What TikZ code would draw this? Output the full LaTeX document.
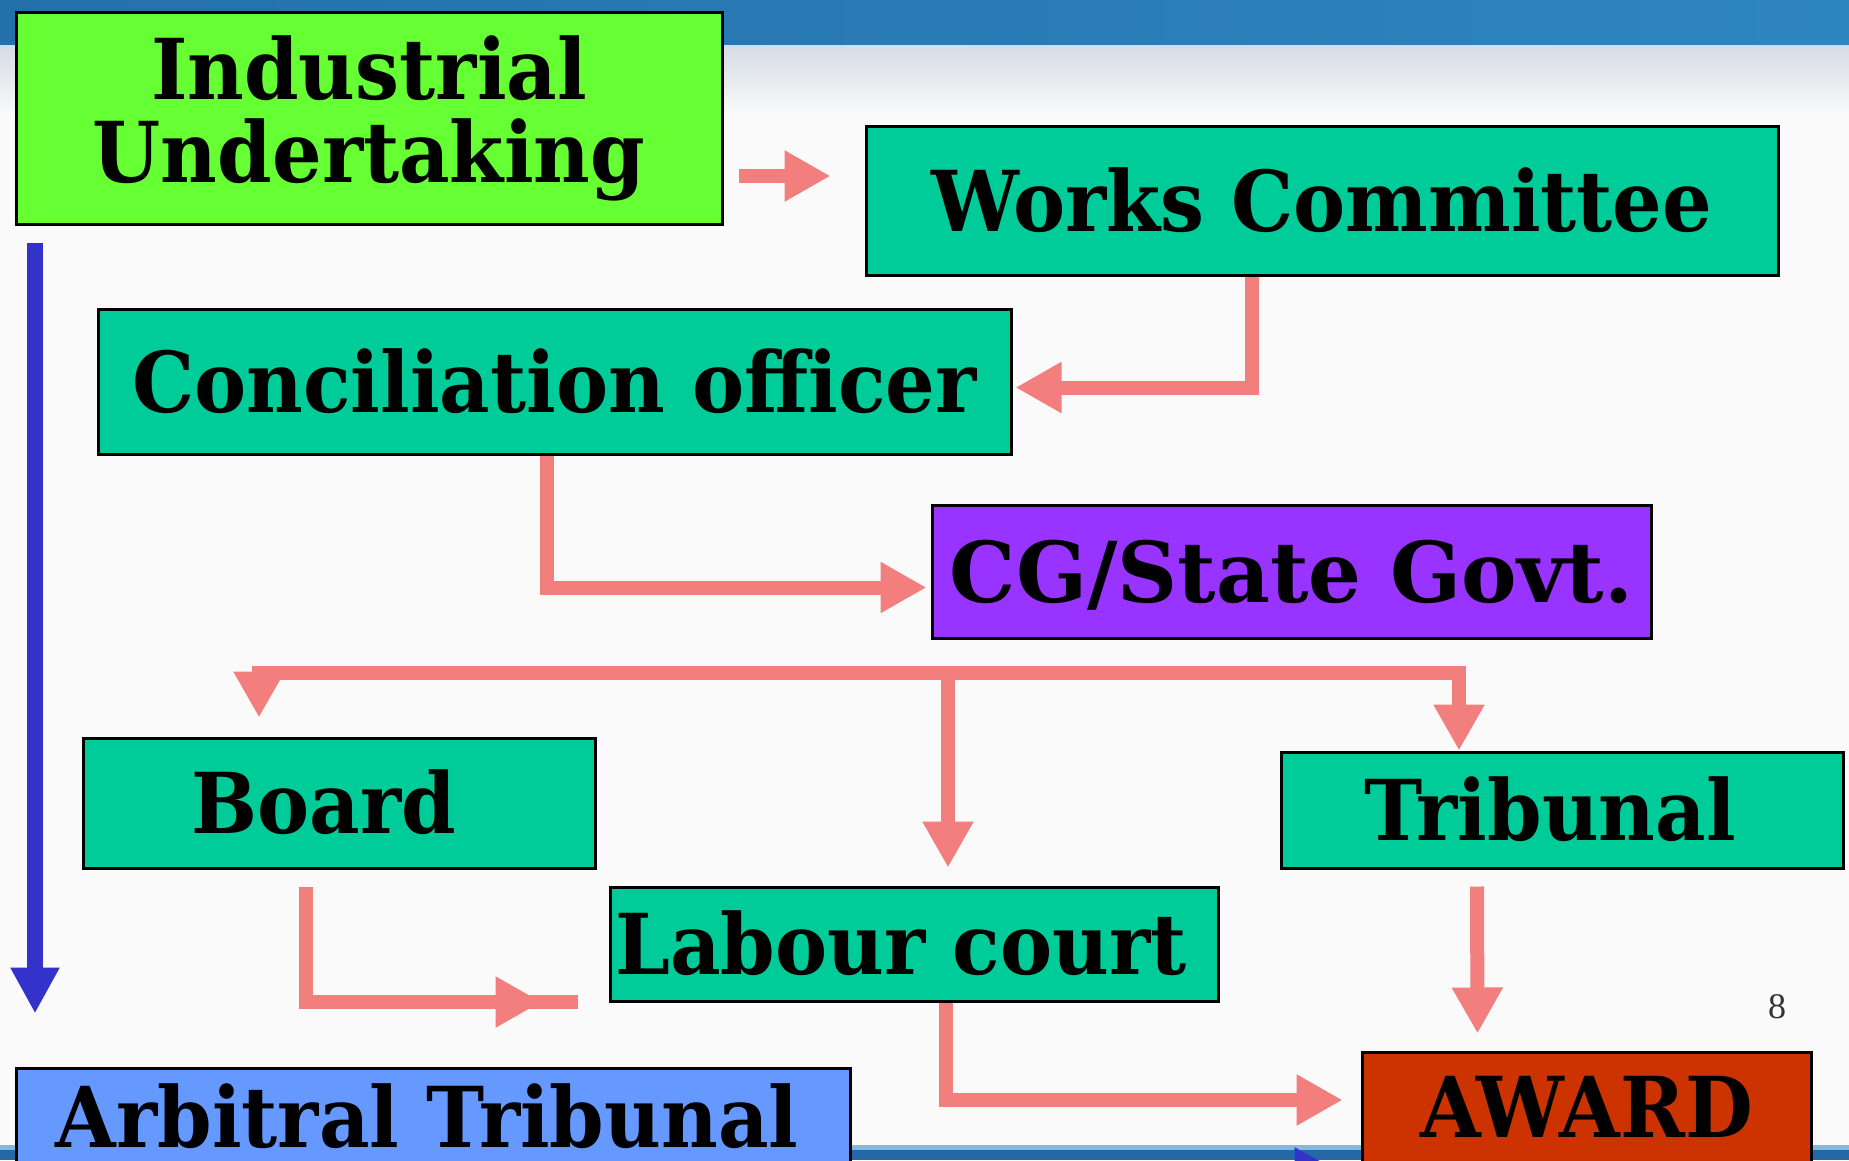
\documentclass[tikz,border=0pt]{standalone}
\usepackage{fontspec}
\setmainfont{DejaVu Serif}[FakeStretch=0.93]
\newfontfamily\numfont{Liberation Serif}
\usetikzlibrary{arrows.meta,calc}
\definecolor{bgc}{HTML}{FAFAFA}
\definecolor{barL}{HTML}{2470AA}
\definecolor{barR}{HTML}{2E86C1}
\definecolor{gloss}{HTML}{D5DCE3}
\definecolor{botL}{HTML}{86B8DC}
\definecolor{botD}{HTML}{2468A8}
\definecolor{limeF}{HTML}{66FF33}
\definecolor{tealF}{HTML}{00CC99}
\definecolor{purpF}{HTML}{9933FF}
\definecolor{blueF}{HTML}{6699FF}
\definecolor{redF}{HTML}{CC3300}
\definecolor{salmon}{HTML}{F27E7E}
\definecolor{flowblue}{HTML}{3333CC}
\begin{document}
\begin{tikzpicture}[x=1pt,y=-1pt,
  box/.style={draw=black, line width=3pt, inner sep=0pt,
    font=\bfseries\fontsize{84}{83}\selectfont},
  oneline/.style={text height=61pt, text depth=0pt},
  arr/.style={draw=salmon, line width=14pt, -{Triangle[length=46pt,width=48pt]}},
  link/.style={draw=salmon, line width=14pt},
  barr/.style={draw=flowblue, line width=16pt, -{Triangle[length=46pt,width=46pt]}}]
\useasboundingbox (0,0) rectangle (1849,1160);
\clip (0,0) rectangle (1849,1160);
% background
\fill[bgc] (0,0) rectangle (1849,1160);
\fill[left color=barL, right color=barR] (0,0) rectangle (1849,45);
\fill[top color=gloss, bottom color=bgc] (0,45) rectangle (1849,115);
\fill[botL] (0,1145) rectangle (1849,1150);
\fill[botD] (0,1150) rectangle (1849,1160);

% boxes
\node[box, fill=limeF, minimum width=706pt, minimum height=212pt, align=center] (iu) at (369,118) {Industrial\\Undertaking};
\node[box, oneline, fill=tealF, minimum width=912pt, minimum height=149pt] (wc) at (1322,200.5) {Works Committee};
\node[box, oneline, fill=tealF, minimum width=913pt, minimum height=145pt] (co) at (554.5,381.5) {Conciliation officer};
\node[box, oneline, fill=purpF, minimum width=719pt, minimum height=133pt] (cg) at (1291.5,571.5) {\scalebox{1.066}[1]{CG/State Govt.}};
\node[box, oneline, fill=tealF, minimum width=512pt, minimum height=130pt] (board) at (339,803) {Board\hspace*{30pt}};
\node[box, oneline, fill=tealF, minimum width=562pt, minimum height=116pt] (trib) at (1562,810) {Tribunal\hspace*{24pt}};
\node[box, oneline, fill=tealF, minimum width=608pt, minimum height=114pt] (lab) at (914,944) {Labour court\hspace*{26pt}};
\node[box, oneline, fill=blueF, minimum width=834pt, minimum height=98pt] (arb) at (433,1117) {Arbitral Tribunal\hspace*{12pt}};
\node[box, oneline, fill=redF, minimum width=449pt, minimum height=110pt] (award) at (1586.5,1107) {AWARD};
\node[font=\numfont\fontsize{36}{36}\selectfont, text=black!80, inner sep=0pt] (pg) at (1777,1007) {8};

% connectors
\draw[arr] ($(iu.east)+(15,58)$) -- ($(wc.west |- iu.east)+(-34,58)$);
\draw[arr] ($(wc.south)+(-70,0)$) |- ($(co.east)+(3,6)$);
\draw[arr] ($(co.south)+(-8,0)$) |- ($(cg.west)+(-4,16)$);
\coordinate (busL) at ($(board.north)+(-80,-64)$);
\coordinate (busR) at ($(trib.north)+(-103,-78)$);
\coordinate (midx) at ($(lab.north)+(34,0)$);
\draw[arr] ($(busL)+(-7,0)$) -- (busR) -- ($(trib.north)+(-103,0)$);
\draw[arr] (busL) -- ($(board.north)+(-80,-19)$);
\draw[arr] (midx |- busL) -- ($(midx)+(0,-18)$);
\draw[arr] ($(board.south)+(-33,17)$) |- ($(lab.west)+(-67,58)$);
\draw[link] ($(lab.west)+(-80,58)$) -- ($(lab.west)+(-31,58)$);
\draw[arr] ($(trib.south)+(-85,17)$) -- ($(award.north)+(-109,-17)$);
\draw[arr] ($(lab.south)+(32,0)$) |- ($(award.west)+(-18,-7)$);
\draw[barr] ($(iu.south)+(-334,17)$) -- ($(arb.north)+(-398,-53)$);
\draw[barr] ($(arb.east)+(0,55)$) -- ($(award.west)+(-20,65)$);
\end{tikzpicture}
\end{document}
